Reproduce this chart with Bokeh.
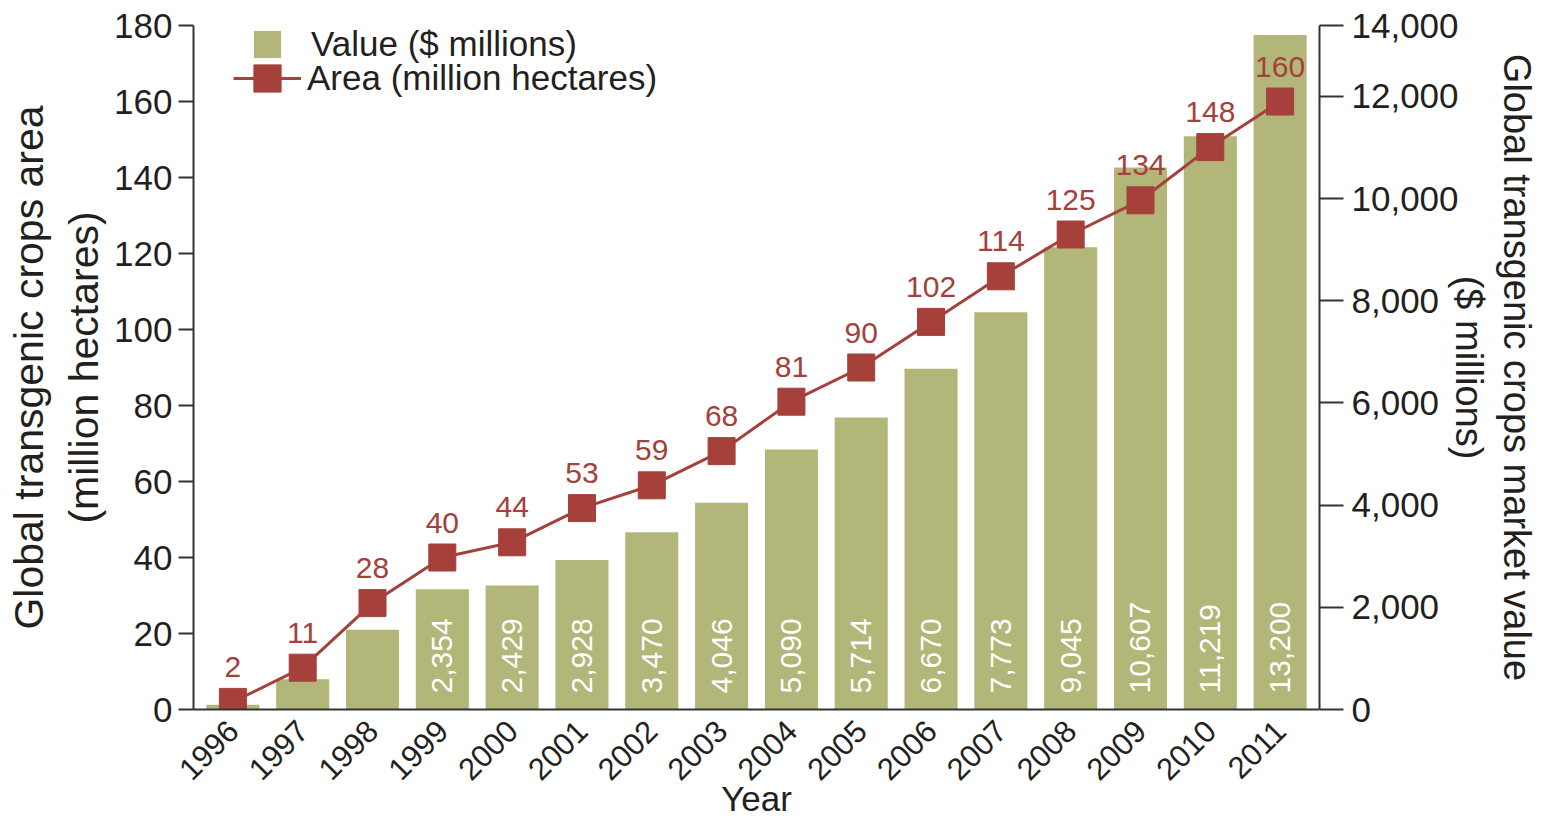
import math
from bokeh.plotting import figure
from bokeh.models import (FactorRange, Range1d, LinearAxis, FixedTicker, NumeralTickFormatter,
                          Legend, LegendItem, ColumnDataSource)
from bokeh.core.properties import value
from bokeh.embed import file_html
from bokeh.resources import INLINE

# ---- data ----
years = ["1996", "1997", "1998", "1999", "2000", "2001", "2002", "2003",
         "2004", "2005", "2006", "2007", "2008", "2009", "2010", "2011"]
market_value = [93, 591, 1560, 2354, 2429, 2928, 3470, 4046,
                5090, 5714, 6670, 7773, 9045, 10607, 11219, 13200]
area = [2, 11, 28, 40, 44, 53, 59, 68, 81, 90, 102, 114, 125, 134, 148, 160]
left_ticks = [0, 20, 40, 60, 80, 100, 120, 140, 160, 180]
right_ticks = [0, 2000, 4000, 6000, 8000, 10000, 12000]
labelled_from = "1999"

FONT = "Liberation Sans"
OLIVE = "#b2b779"
RED = "#a5403a"
AXIS = "#333333"
TEXT = "#231f20"

value_labels = [f"{v:,}" if int(y) >= int(labelled_from) else "" for y, v in zip(years, market_value)]
area_labels = [str(a) for a in area]

src = ColumnDataSource(dict(year=years, value=market_value, area=area,
                            vlab=value_labels, alab=area_labels))

RIGHT_END = 13386  # right scale value at frame top (reference labels that tick 14,000)

p = figure(width=1548, height=824, x_range=FactorRange(*years, range_padding=0.008),
           y_range=Range1d(0, 180), output_backend="svg", toolbar_location=None,
           min_border_left=193, min_border_right=229, min_border_top=25, min_border_bottom=115)
p.outline_line_color = None
p.grid.visible = False
p.background_fill_color = "white"

p.extra_y_ranges = {"value": Range1d(0, RIGHT_END)}

# bars
p.vbar(x="year", top="value", width=0.76, source=src, y_range_name="value",
       fill_color=OLIVE, line_color=None)
p.text(x="year", y=0, text="vlab", source=src, y_range_name="value",
       angle=math.pi / 2, text_align="left", text_baseline="middle", y_offset=-16,
       text_color="white", text_font=value(FONT), text_font_size="30px")

# line
line_r = p.line(x="year", y="area", source=src, line_color=RED, line_width=3)
sq_r = p.scatter(x="year", y="area", source=src, marker="square", size=27,
                 fill_color=RED, line_color=RED)
p.text(x="year", y="area", text="alab", source=src, text_align="center",
       text_baseline="alphabetic", y_offset=-35, text_color=RED,
       text_font=value(FONT), text_font_size="30px")

# legend key for the bars (a point with no y value, so nothing is drawn in the plot)
leg_sq = p.scatter(x=[years[0]], y=[float("nan")], marker="square",
                   fill_color=OLIVE, line_color=None)

def make_legend(label, renderers, loc, standoff):
    return Legend(items=[LegendItem(label=label, renderers=renderers)],
                  location=loc, glyph_width=68, glyph_height=68, label_height=68,
                  spacing=0, padding=0, margin=0, label_standoff=standoff,
                  border_line_color=None, background_fill_alpha=0,
                  label_text_font=FONT, label_text_font_size="35px", label_text_color=TEXT)

p.add_layout(make_legend("Value ($ millions)", [leg_sq], (40, 631), 10))
p.add_layout(make_legend("Area (million hectares)", [line_r, sq_r], (40, 597), 6))

# axes styling
def style_axis(ax):
    ax.axis_line_color = AXIS
    ax.axis_line_width = 2
    ax.major_tick_line_color = AXIS
    ax.major_tick_line_width = 2
    ax.minor_tick_line_color = None
    ax.major_label_text_font = FONT
    ax.major_label_text_color = TEXT
    ax.axis_label_text_font = FONT
    ax.axis_label_text_font_style = "normal"
    ax.axis_label_text_color = TEXT

yl = p.yaxis[0]
style_axis(yl)
yl.ticker = FixedTicker(ticks=left_ticks)
yl.major_tick_out = 15
yl.major_tick_in = 0
yl.major_label_standoff = 6
yl.major_label_text_font_size = "35px"
yl.axis_label = "Global transgenic crops area\n(million hectares)"
yl.axis_label_text_font_size = "41px"
yl.axis_label_text_line_height = 1.2
yl.axis_label_standoff = 4

yr = LinearAxis(y_range_name="value")
style_axis(yr)
yr.ticker = FixedTicker(ticks=right_ticks + [RIGHT_END])
yr.major_label_overrides = {RIGHT_END: "14,000"}
yr.formatter = NumeralTickFormatter(format="0,0")
yr.major_tick_out = 24
yr.major_tick_in = 0
yr.major_label_standoff = 8
yr.major_label_text_font_size = "35px"
yr.axis_label = "Global transgenic crops market value\n($ millions)"
yr.axis_label_text_font_size = "38px"
yr.axis_label_text_line_height = 1.15
yr.axis_label_standoff = -14
p.add_layout(yr, "right")

xa = p.xaxis[0]
style_axis(xa)
xa.major_tick_line_color = None
xa.major_label_orientation = math.pi / 4
xa.major_label_text_font_size = "31px"
xa.major_label_standoff = 10
xa.axis_label = "Year"
xa.axis_label_text_font_size = "35px"
xa.axis_label_standoff = -14

open("out.html", "w").write(file_html(p, INLINE))
